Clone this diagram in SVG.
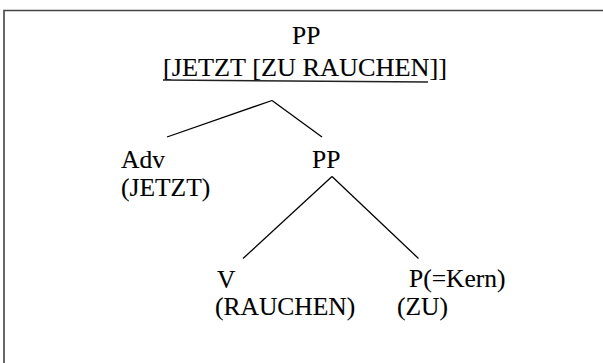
<svg xmlns="http://www.w3.org/2000/svg" width="603" height="363" viewBox="0 0 603 363">
  <style>
    .lbl { font-family: 'Liberation Serif', 'Times New Roman', serif; font-size: 25.5px; fill: #000; stroke: #000; stroke-width: 0.12; }
    .edge { stroke: #000; stroke-width: 1.3; fill: none; }
    .frame { stroke: #444; stroke-width: 1.6; fill: none; }
  </style>
  <rect width="603" height="363" fill="#fff"/>
  <!-- frame: left and top sides only -->
  <path class="frame" d="M4,363 V10.5 H603"/>

  <g id="root">
    <text class="lbl" x="292" y="44">PP</text>
    <text class="lbl" x="163" y="76" textLength="284" lengthAdjust="spacingAndGlyphs">[JETZT [ZU RAUCHEN]]</text>
    <line x1="163" y1="80" x2="428" y2="82" stroke="#222" stroke-width="1.5"/>
  </g>
  <g id="adv">
    <text class="lbl" x="121" y="168">Adv</text>
    <text class="lbl" x="121" y="196">(JETZT)</text>
  </g>
  <g id="pp">
    <text class="lbl" x="312" y="168">PP</text>
  </g>
  <g id="v">
    <text class="lbl" x="217" y="288">V</text>
    <text class="lbl" x="215" y="315">(RAUCHEN)</text>
  </g>
  <g id="p">
    <text class="lbl" x="409" y="287">P(=Kern)</text>
    <text class="lbl" x="397" y="315">(ZU)</text>
  </g>

  <g id="connectors">
    <line class="edge" x1="272" y1="100.5" x2="167" y2="137"/>
    <line class="edge" x1="272" y1="100.5" x2="322" y2="137"/>
    <line class="edge" x1="332" y1="176.5" x2="243" y2="258.5"/>
    <line class="edge" x1="332" y1="176.5" x2="418.5" y2="258.5"/>
  </g>
</svg>
